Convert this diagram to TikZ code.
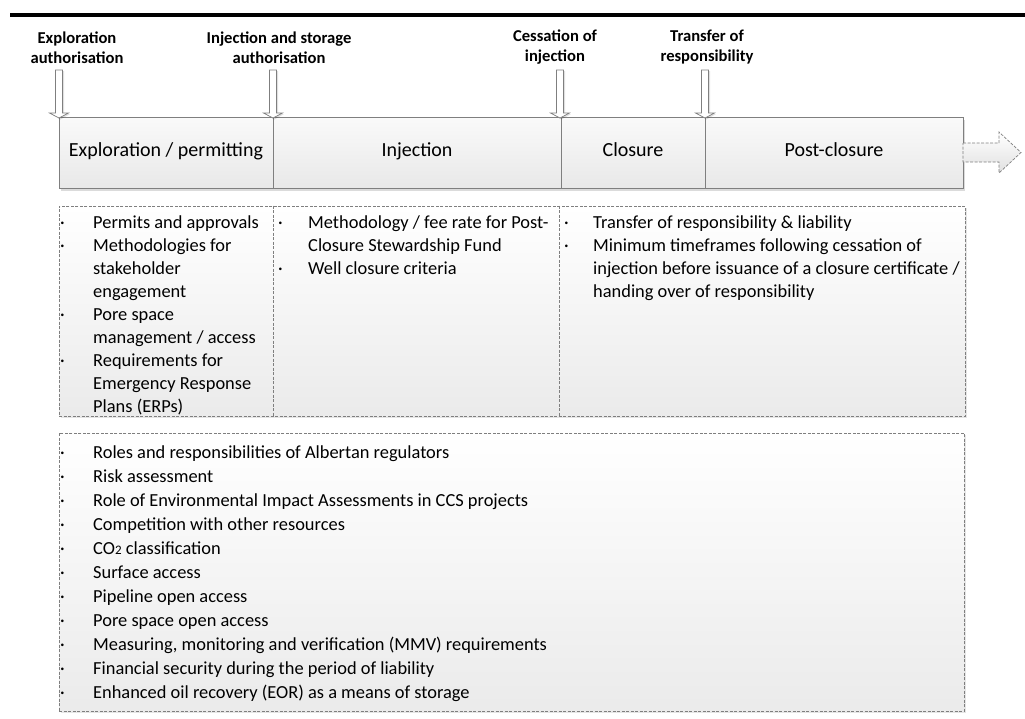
\documentclass[tikz,border=0pt]{standalone}
\usepackage{fontspec}
\setmainfont{Carlito}
\usetikzlibrary{shadows}
\definecolor{edge}{HTML}{7F7F7F}
\begin{document}
\begin{tikzpicture}[x=1pt,y=-1pt,
  lbl/.style={font=\bfseries\fontsize{16.6}{20}\selectfont, align=center, inner sep=0pt},
  phase/.style={draw=edge, line width=0.7pt, minimum height=71pt, inner sep=0pt,
    font=\fontsize{20}{24}\selectfont, text height=12.9pt, text depth=4.6pt},
  barbg/.style={top color=white!98!black, bottom color=white!91!black, draw=none, inner sep=0pt,
    drop shadow={shadow xshift=2pt, shadow yshift=-2.5pt, opacity=0.14, fill=black}},
  listbox/.style={draw=edge, dash pattern=on 3pt off 1.5pt, line width=0.7pt,
    top color=white, bottom color=white!92!black, inner sep=0pt,
    drop shadow={shadow xshift=2pt, shadow yshift=-2pt, opacity=0.1, fill=black}},
  divline/.style={draw=edge, dash pattern=on 3pt off 1.5pt, line width=0.7pt},
  items/.style={anchor=base west, inner sep=0pt, align=left},
  hollow/.style={draw=edge, fill=white, line width=0.7pt},
  downarr/.pic={
    \fill[black, opacity=0.12] (-2,-47) -- (5,-47) -- (5,-4) -- (11,-4) -- (1.5,1.5) -- (-8,-4) -- (-2,-4) -- cycle;
    \draw[hollow] (-3.5,-48) -- (3.5,-48) -- (3.5,-5) -- (9.5,-5) -- (0,0) -- (-9.5,-5) -- (-3.5,-5) -- cycle;
  }
]
\useasboundingbox (0,0) rectangle (1025,718);

% top rule
\draw[line width=3.5pt] (10,15) -- (1025,15);

% phase bar
\node[barbg, minimum width=904pt, minimum height=71pt] (bar) at (511,152.5) {};
\node[phase, minimum width=214pt] (e1) at (166,152.5) {Exploration / permitting};
\node[phase, minimum width=288pt] (e2) at (417,152.5) {Injection};
\node[phase, minimum width=144pt] (e3) at (633,152.5) {Closure};
\node[phase, minimum width=258pt] (e4) at (834,152.5) {Post-closure};

% continuation arrow
\path[top color=white, bottom color=white!88!black, draw=edge, dash pattern=on 3pt off 1.5pt, line width=0.7pt]
  (963,143) -- (999,143) -- (999,132) -- (1021,152.5) -- (999,173) -- (999,162) -- (963,162) -- cycle;

% milestone labels and arrows
\node[lbl] (l1) at (77,48) {Exploration\\authorisation};
\node[lbl] (l2) at (279,48) {Injection and storage\\authorisation};
\node[lbl] (l3) at (555,47) {Cessation of\\injection};
\node[lbl] (l4) at (707,47) {Transfer of\\responsibility};
\pic at (59,118) {downarr};
\pic at (273,118) {downarr};
\pic at (560,118) {downarr};
\pic at (705,118) {downarr};

% upper list box
\node[listbox, minimum width=906pt, minimum height=210pt] (upbox) at (512,311) {};
\draw[divline] (e1.east |- upbox.north) -- (e1.east |- upbox.south);
\draw[divline] ([xshift=-2pt]e2.east |- upbox.north) -- ([xshift=-2pt]e2.east |- upbox.south);

\node[items] (c1) at (60,228) {\fontsize{18.4}{23}\selectfont
\begin{tabular}[t]{@{}p{33pt}@{}l@{}}
· & Permits and approvals\\
· & Methodologies for\\
  & stakeholder\\
  & engagement\\
· & Pore space\\
  & management / access\\
· & Requirements for\\
  & Emergency Response\\
  & Plans (ERPs)
\end{tabular}};

\node[items] (c2) at (278,228) {\fontsize{18.4}{23}\selectfont
\begin{tabular}[t]{@{}p{30pt}@{}l@{}}
· & Methodology / fee rate for Post-\\
  & Closure Stewardship Fund\\
· & Well closure criteria
\end{tabular}};

\node[items] (c3) at (564,228) {\fontsize{18.4}{23}\selectfont
\begin{tabular}[t]{@{}p{29pt}@{}l@{}}
· & Transfer of responsibility \& liability\\
· & Minimum timeframes following cessation of\\
  & injection before issuance of a closure certificate /\\
  & handing over of responsibility
\end{tabular}};

% lower list box
\node[listbox, minimum width=905pt, minimum height=278pt] (lowbox) at (511.5,572) {};
\node[items] (c4) at (60,458) {\fontsize{18.4}{24}\selectfont
\begin{tabular}[t]{@{}p{33pt}@{}l@{}}
· & Roles and responsibilities of Albertan regulators\\
· & Risk assessment\\
· & Role of Environmental Impact Assessments in CCS projects\\
· & Competition with other resources\\
· & CO{\fontsize{13}{13}\selectfont 2} classification\\
· & Surface access\\
· & Pipeline open access\\
· & Pore space open access\\
· & Measuring, monitoring and verification (MMV) requirements\\
· & Financial security during the period of liability\\
· & Enhanced oil recovery (EOR) as a means of storage
\end{tabular}};
\end{tikzpicture}
\end{document}
